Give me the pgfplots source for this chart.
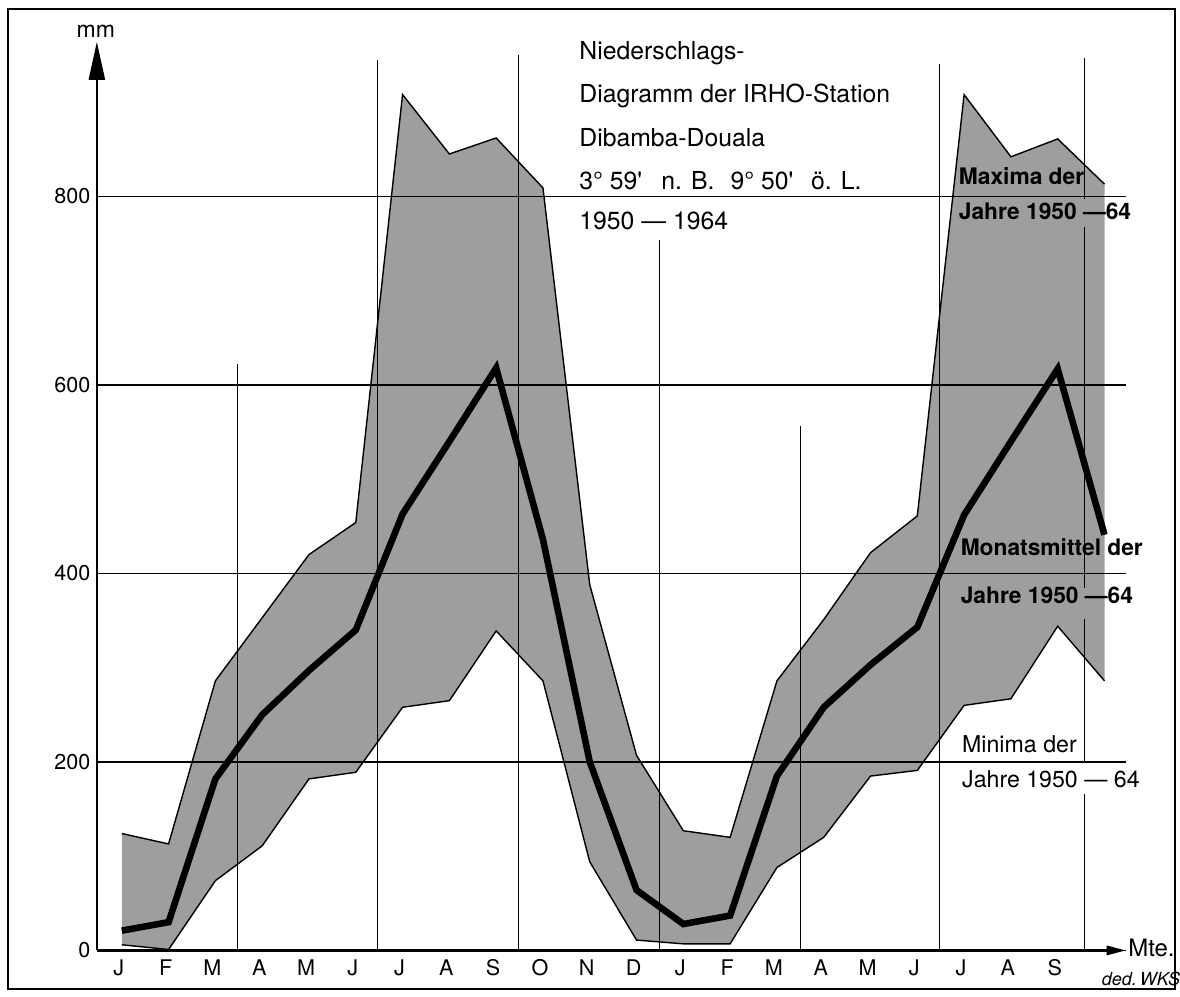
\documentclass[border=0pt]{standalone}
\usepackage{fontspec}
\setmainfont{TeX Gyre Heros}
\usepackage{pgfplots}
\pgfplotsset{compat=1.18}
\usepgfplotslibrary{fillbetween}
\usetikzlibrary{arrows.meta}
\definecolor{hatchgray}{gray}{0.62}
\newcommand{\fs}[1]{\fontsize{#1}{#1}\selectfont}

\begin{document}
\begin{tikzpicture}
\begin{axis}[
    set layers,
    scale only axis,
    width=515.5bp, height=454.9bp,
    xmin=-0.533, xmax=21.47,
    ymin=0, ymax=964,
    axis x line=bottom, axis y line=left,
    x axis line style={line width=1.6bp, -{Triangle[length=10bp,width=4.5bp]}},
    y axis line style={line width=1.2bp, -{Triangle[length=19bp,width=8bp]}},
    xtick={0,...,20},
    xticklabels={J,F,M,A,M,J,J,A,S,O,N,D,J,F,M,A,M,J,J,A,S},
    ytick={0,200,400,600,800},
    major tick length=0pt,
    ymajorgrids=true,
    grid style={black, line width=0.6bp},
    axis on top,
    clip=false,
    xticklabel style={font=\fs{10.8bp}, anchor=north, inner sep=0pt, yshift=-4.5bp, xshift=-1.5bp},
    yticklabel style={font=\fs{10.8bp}, anchor=east, inner sep=0pt, xshift=-3bp},
    /pgf/number format/assume math mode=true,
]

% Maxima / Minima 1950-64
\addplot[black, line width=0.7bp, name path=maxi] coordinates {
(0,124) (1,113) (2,286) (3,353) (4,420) (5,454) (6,908) (7,845) (8,862) (9,809) (10,388) (11,207)
(12,127) (13,120) (14,286) (15,351) (16,422) (17,461) (18,908) (19,842) (20,861) (21,813)};
\addplot[black, line width=0.7bp, name path=mini] coordinates {
(0,6) (1,1) (2,74) (3,111) (4,182) (5,189) (6,258) (7,265) (8,339) (9,286) (10,94) (11,11)
(12,7) (13,7) (14,88) (15,120) (16,185) (17,191) (18,260) (19,267) (20,344) (21,286)};
\addplot[fill=hatchgray, draw=none] fill between[of=maxi and mini];

% vertical lines
\addplot[black, line width=0.55bp] coordinates {(2.47,0) (2.47,622)};
\addplot[black, line width=0.55bp] coordinates {(5.47,0) (5.47,945)};
\addplot[black, line width=0.55bp] coordinates {(8.47,0) (8.47,950)};
\addplot[black, line width=0.55bp] coordinates {(11.5,0) (11.5,754)};
\addplot[black, line width=0.55bp] coordinates {(14.5,0) (14.5,556)};
\addplot[black, line width=0.55bp] coordinates {(17.47,0) (17.47,940)};
\addplot[black, line width=0.55bp] coordinates {(20.57,0) (20.57,166)};
\addplot[black, line width=0.55bp] coordinates {(20.57,200) (20.57,352)};
\addplot[black, line width=0.55bp] coordinates {(20.57,385) (20.57,768)};
\addplot[black, line width=0.55bp] coordinates {(20.57,797) (20.57,947)};

% Monatsmittel
\addplot[black, line width=3.3bp] coordinates {
(0,21) (1,30) (2,182) (3,250) (4,297) (5,340) (6,463) (7,540) (8,618) (9,436) (10,200) (11,64)
(12,28) (13,37) (14,185) (15,258) (16,303) (17,343) (18,462) (19,540) (20,617) (21,441)};

% title block
\node[anchor=base west, inner sep=0pt, font=\fs{12.4bp}] at (axis cs:9.77,945) {Niederschlags-};
\node[anchor=base west, inner sep=0pt, font=\fs{12.4bp}] at (axis cs:9.77,899.3) {Diagramm der IRHO-Station};
\node[anchor=base west, inner sep=0pt, font=\fs{12.4bp}] at (axis cs:9.77,852.7) {Dibamba-Douala};
\node[anchor=base west, inner sep=0pt, font=\fs{12.4bp}] at (axis cs:9.77,807) {3° 59\textquotesingle};
\node[anchor=base west, inner sep=0pt, font=\fs{12.4bp}] at (axis cs:11.52,807) {n. B.};
\node[anchor=base west, inner sep=0pt, font=\fs{12.4bp}] at (axis cs:13.0,807) {9° 50\textquotesingle};
\node[anchor=base west, inner sep=0pt, font=\fs{12.4bp}] at (axis cs:14.72,807) {ö. L.};
\node[anchor=base west, inner sep=0pt, font=\fs{12.4bp}] at (axis cs:9.77,764.7) {1950 — 1964};

% series labels
\node[anchor=base west, inner sep=0pt, font=\bfseries\fs{11.4bp}] at (axis cs:17.88,812.4) {Maxima der};
\node[anchor=base west, inner sep=0pt, font=\bfseries\fs{11.4bp}] at (axis cs:17.88,775.3) {Jahre 1950 —64};
\node[anchor=base west, inner sep=0pt, font=\bfseries\fs{11.4bp}] at (axis cs:17.92,418.5) {Monatsmittel der};
\node[anchor=base west, inner sep=0pt, font=\bfseries\fs{11.4bp}] at (axis cs:17.92,368.4) {Jahre 1950 —64};
\node[anchor=base west, inner sep=0pt, font=\fs{11.6bp}] at (axis cs:17.95,210.2) {Minima der};
\node[anchor=base west, inner sep=0pt, font=\fs{11.6bp}] at (axis cs:17.95,173) {Jahre 1950 — 64};

% axis names and signature
\node[anchor=base, inner sep=0pt, font=\fs{11.5bp}] at (axis cs:-0.555,969) {mm};
\node[anchor=base west, inner sep=0pt, font=\fs{12bp}] at (axis cs:21.50,-6.6) {Mte.};
\node[inner sep=0pt, font=\itshape\fs{9bp}] at (axis cs:21.78,-30) {ded.\,WKS};

% frame and page
\draw[line width=1bp] (axis cs:-2.432,-40.6) rectangle (axis cs:22.51,998.6);
\path (axis cs:-2.603,-49.07) rectangle (axis cs:22.573,1008.4);
\end{axis}
\end{tikzpicture}
\end{document}
